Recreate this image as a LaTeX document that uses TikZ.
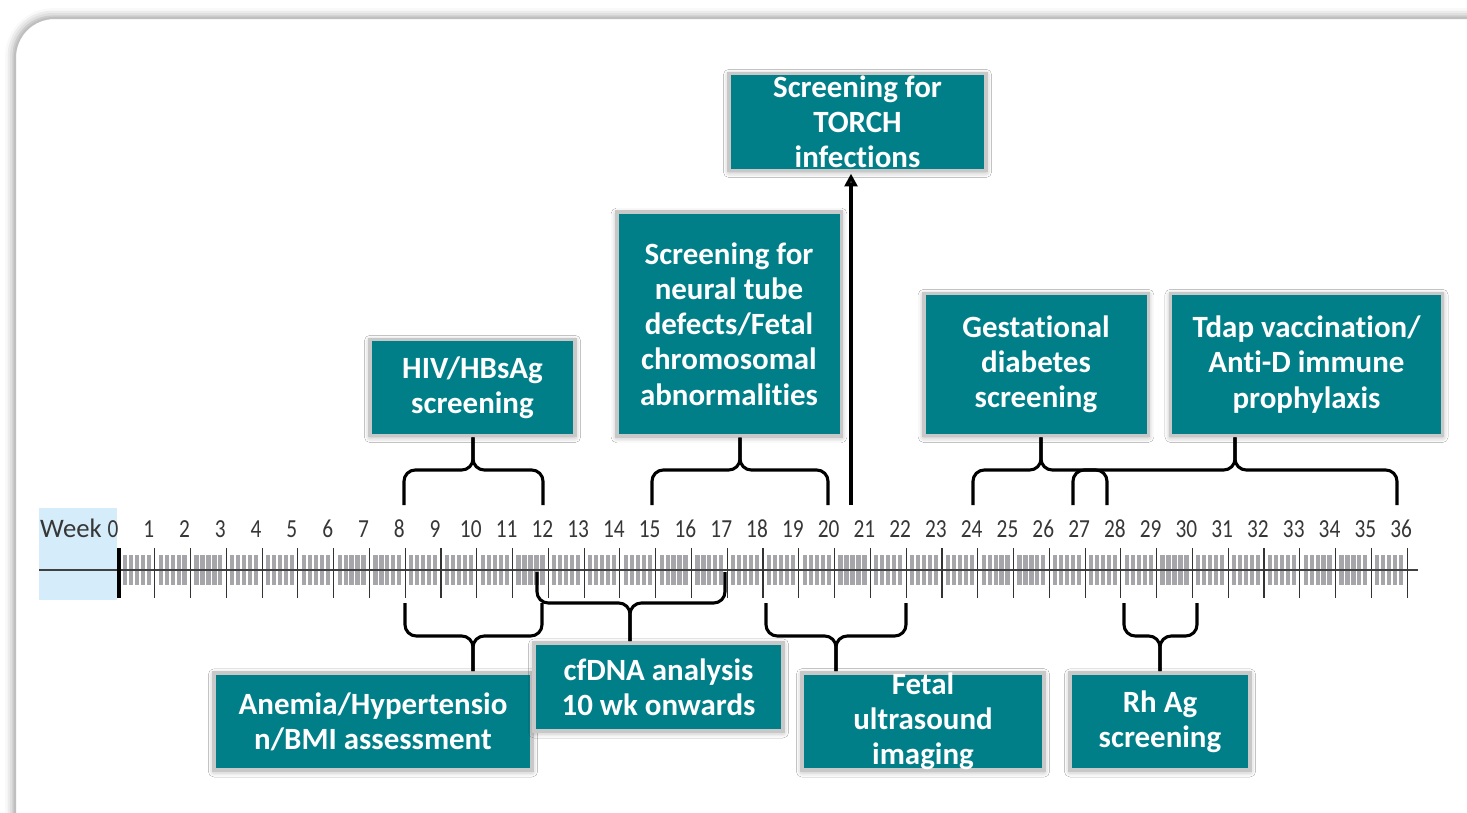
\documentclass[tikz,border=0pt]{standalone}
\usepackage{fontspec}
\setmainfont{Carlito}[Ligatures={NoCommon,NoContextual,NoRare}, Contextuals=NoAlternate]
\newfontfamily\ticksfont[FakeStretch=0.82]{Carlito}
\usepackage{tikz}
\usetikzlibrary{arrows.meta, positioning, calc, shadows.blur}
\definecolor{boxteal}{RGB}{0,127,137}
\definecolor{boxedge}{RGB}{200,200,200}
\definecolor{daybar}{RGB}{165,165,170}
\definecolor{weekbg}{RGB}{213,237,250}
\definecolor{ticktext}{RGB}{55,55,55}
\newcommand{\nolig}{\kern0pt}
\tikzset{
  event/.style={rectangle, draw=boxedge, line width=2.5pt, fill=boxteal, text=white, align=center, inner sep=0pt, font=\fontsize{22}{25}\selectfont\bfseries, blur shadow={shadow xshift=0pt, shadow yshift=-1pt, shadow blur radius=4pt, shadow opacity=35}},
  boxsize/.style 2 args={minimum width=#1*0.025cm, minimum height=#2*0.025cm},
  brace/.style={line width=2.2pt, rounded corners=8pt},
  weektick/.style={line width=0.8pt, draw=black!80},
  daytick/.style={line width=3pt, draw=daybar},
  weeknum/.style={font=\ticksfont\fontsize{18.5}{18.5}\selectfont, text=ticktext, inner sep=0pt, anchor=base},
  arrow/.style={line width=2.2pt, -{Triangle[length=9pt, width=9pt]}, shorten >=1pt}
}
% brace above the timeline: x left, x right, x tip, target node
\newcommand{\upbrace}[4]{%
  \coordinate (tip) at (#3,470);
  \draw[brace] (#1,505) |- (tip) -- (tip |- #4.south);
  \draw[brace] (#2,505) |- (tip) -- (tip |- #4.south);
}
% brace below the timeline: x left, x right, x tip, y ends, y bar, target node
\newcommand{\downbrace}[6]{%
  \coordinate (tip) at (#3,#5);
  \draw[brace] (#1,#4) |- (tip) -- (tip |- #6.north);
  \draw[brace] (#2,#4) |- (tip) -- (tip |- #6.north);
}

\begin{document}
\begin{tikzpicture}[x=0.025cm, y=-0.025cm]
\useasboundingbox (0,0) rectangle (1467,813);

% Frame
\draw[draw=black!25, line width=1.5pt, fill=white, rounded corners=28pt,
  blur shadow={shadow xshift=-1pt, shadow yshift=1pt, shadow blur radius=6pt, shadow opacity=40}]
  (15,18) rectangle (1540,880);

% Timeline
\fill[weekbg] (39,508) rectangle (117,600);
\node[weeknum, font=\fontsize{19}{19}\selectfont] (week) at (71,537) {Week};
\foreach \w in {0,...,35}
  \foreach \d in {1,...,5}
    \draw[daytick] ({119+(\w+\d/6)*35.78},555) -- ({119+(\w+\d/6)*35.78},585);
\draw[line width=0.8pt, black!75] (39,570) -- (1418,570);
\foreach \w in {0,...,36} {
  \coordinate (wk\w) at ({119+\w*35.78},570);
  \node[weeknum] (n\w) at ({113+\w*35.78},537) {\w};
}
\foreach \w in {1,...,36}
  \draw[weektick] ($(wk\w)+(0,-22)$) -- ($(wk\w)+(0,28)$);
\draw[line width=3pt] ($(wk0)+(0,-22)$) -- ($(wk0)+(0,28)$);

% Screenings above
\node[event, boxsize={257}{97}] (torch) at (857.5,122) {Screening for\\TORCH\\infect\nolig ions};
\node[event, boxsize={205}{96}] (hiv) at (472.5,387.5) {HIV/HBsAg\\screening};
\node[event, boxsize={224.5}{223.5}] (ntd) at (729,324) {Screening for\\neural tube\\defects/Fetal\\chromosomal\\abnormalit\nolig ies};
\node[event, boxsize={224.5}{142}] (gdm) at (1036,364.5) {Gestat\nolig ional\\diabetes\\screening};
\node[event, boxsize={272}{142}] (tdap) at (1306.5,364.5) {Tdap vaccinat\nolig ion/\\Anti-D immune\\prophylaxis};

% Screenings below
\node[event, boxsize={318}{97}] (anemia) at (373,721.5) {Anemia/Hypertensio\\n/BMI assessment};
\node[event, boxsize={249}{88}] (cfdna) at (658.5,687) {cfDNA analysis\\10 wk onwards};
\node[event, boxsize={242}{97}] (fetalus) at (923,721.5) {Fetal\\ultrasound\\imaging};
\node[event, boxsize={180}{97}] (rhag) at (1160,721.5) {Rh Ag\\screening};

% Braces
\upbrace{404}{543}{473}{hiv}
\upbrace{652}{828}{740}{ntd}
\upbrace{973}{1107}{1041}{gdm}
\upbrace{1073}{1397}{1235}{tdap}
\downbrace{405}{542}{473}{603}{636}{anemia}
\downbrace{537}{725}{630}{572}{603}{cfdna}
\downbrace{766}{906}{836}{603}{636}{fetalus}
\downbrace{1124}{1197}{1160}{603}{636}{rhag}

% TORCH arrow
\coordinate (torchfoot) at (851,505);
\draw[arrow] (torchfoot) -- (torchfoot |- torch.south);

\end{tikzpicture}
\end{document}
